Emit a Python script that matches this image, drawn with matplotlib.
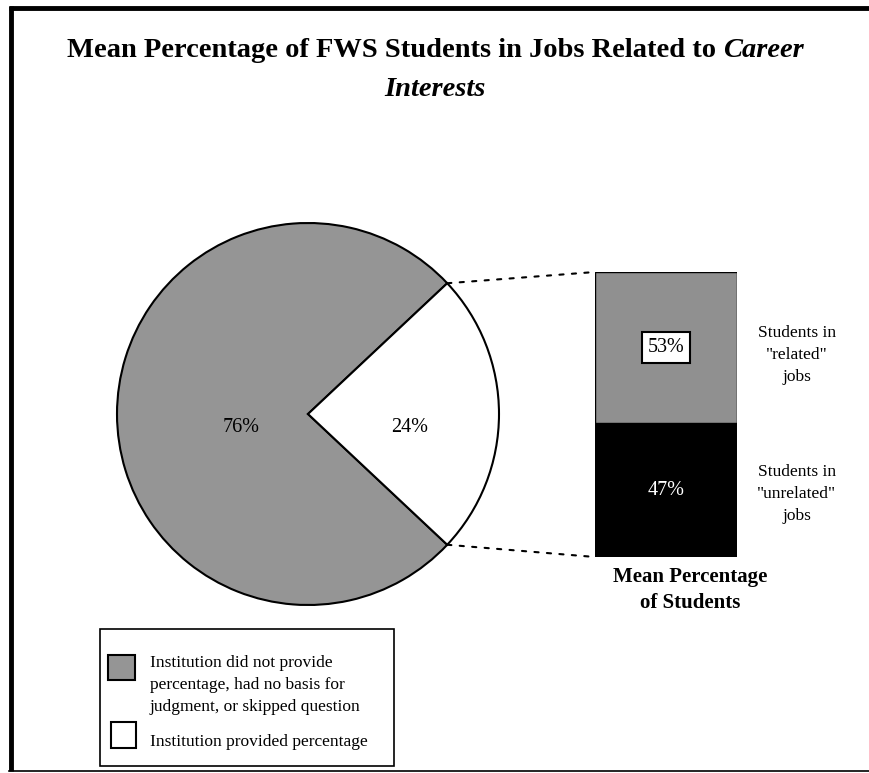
import matplotlib.pyplot as plt
import numpy as np
from matplotlib.patches import Rectangle, ConnectionPatch

plt.rcParams['font.family'] = 'Liberation Serif'

# data
pie_labels = ['Institution did not provide\npercentage, had no basis for\njudgment, or skipped question',
              'Institution provided percentage']
pie_values = [76, 24]
pie_colors = ['#959595', 'white']

bar_labels = ['Students in\n"unrelated"\njobs', 'Students in\n"related"\njobs']
bar_values = [47, 53]
bar_colors = ['black', '#909090']

W, H = 870, 773
fig = plt.figure(figsize=(W / 100, H / 100), dpi=100)
ax = fig.add_axes([0, 0, 1, 1])

# pie (pixel coordinates, y downwards)
cx, cy, r = 308, 414, 191
start = 360 - pie_values[1] / 100 * 360 / 2 - pie_values[0] / 100 * 360
wedges, _ = ax.pie(pie_values, colors=pie_colors, startangle=start, radius=r, center=(cx, cy),
                   wedgeprops=dict(edgecolor='black', linewidth=1.5))
ax.set_xlim(0, W)
ax.set_ylim(H, 0)
ax.set_aspect('auto')
ax.axis('off')

# percent labels on the pie
ax.text(cx - 0.35 * r, cy + 14, f'{pie_values[0]}%', ha='center', va='center', fontsize=14.5)
ax.text(cx + 0.53 * r, cy + 14, f'{pie_values[1]}%', ha='center', va='center', fontsize=14.5)

# stacked bar
bax = fig.add_axes([595 / W, (H - 557) / H, 142 / W, 285 / H])
bottom = 0
for val, col in zip(bar_values, bar_colors):
    bax.bar(0, val, width=1, bottom=bottom, color=col, edgecolor='black', linewidth=1)
    bottom += val
bax.set_xlim(-0.5, 0.5)
bax.set_ylim(0, 100)
bax.axis('off')

bax.text(0, bar_values[0] / 2, f'{bar_values[0]}%', color='white', ha='center', va='center', fontsize=14.5)
bax.text(0, bar_values[0] + bar_values[1] * 0.5, f'{bar_values[1]}%', color='black', ha='center',
         va='center', fontsize=14.5,
         bbox=dict(boxstyle='square,pad=0.3', facecolor='white', edgecolor='black', linewidth=1.5))

# labels right of bar
tr = bax.get_yaxis_transform()
bax.text(1.42, bar_values[0] * 0.47, bar_labels[0], ha='center', va='center', fontsize=12.5,
         linespacing=1.47, transform=tr)
bax.text(1.42, bar_values[0] + bar_values[1] * 0.45, bar_labels[1], ha='center', va='center',
         fontsize=12.5, linespacing=1.47, transform=tr)

# connectors from the white wedge to the bar
half = np.deg2rad(pie_values[1] / 100 * 180)
for sgn, yb in [(-1, 100), (1, 0)]:
    p = (cx + r * np.cos(half), cy + sgn * r * np.sin(half))
    con = ConnectionPatch(xyA=p, coordsA=ax.transData, xyB=(-0.5, yb), coordsB=bax.transData,
                          linestyle=(0, (2, 4)), linewidth=1.5, color='black')
    fig.add_artist(con)

# bar title
ax.text(690, 590, 'Mean Percentage\nof Students', ha='center', va='center', fontsize=15,
        fontweight='bold', linespacing=1.35)

# chart title: bold with italic "Career"
fig.canvas.draw()
rend = fig.canvas.get_renderer()
t1 = ax.text(0, 57, 'Mean Percentage of FWS Students in Jobs Related to ', fontsize=20.5,
             fontweight='bold', ha='left', va='baseline')
t2 = ax.text(0, 57, 'Career', fontsize=20.5, fontweight='bold', style='italic', ha='left', va='baseline')
w1 = t1.get_window_extent(rend).width
w2 = t2.get_window_extent(rend).width
x0 = W / 2 - (w1 + w2) / 2
t1.set_x(x0)
t2.set_x(x0 + w1)
ax.text(W / 2, 96, 'Interests', fontsize=20.5, fontweight='bold', style='italic', ha='center', va='baseline')

# legend box
ax.add_patch(Rectangle((100, 629), 294, 137, facecolor='white', edgecolor='black', linewidth=1.2))
ax.add_patch(Rectangle((108, 655), 27, 25, facecolor=pie_colors[0], edgecolor='black', linewidth=1.5))
ax.add_patch(Rectangle((111, 722), 25, 26, facecolor=pie_colors[1], edgecolor='black', linewidth=1.5))
ax.text(150, 685, pie_labels[0], ha='left', va='center', fontsize=12.5, linespacing=1.47)
ax.text(150, 742, pie_labels[1], ha='left', va='center', fontsize=12.5)

# page frame
ax.plot([11, 11], [6, 771], color='black', linewidth=3.5, solid_capstyle='butt')
ax.plot([9, W], [8, 8], color='black', linewidth=3.5, solid_capstyle='butt')
ax.plot([9, W], [771, 771], color='black', linewidth=1.2)

fig.savefig('out.png', dpi=100)
